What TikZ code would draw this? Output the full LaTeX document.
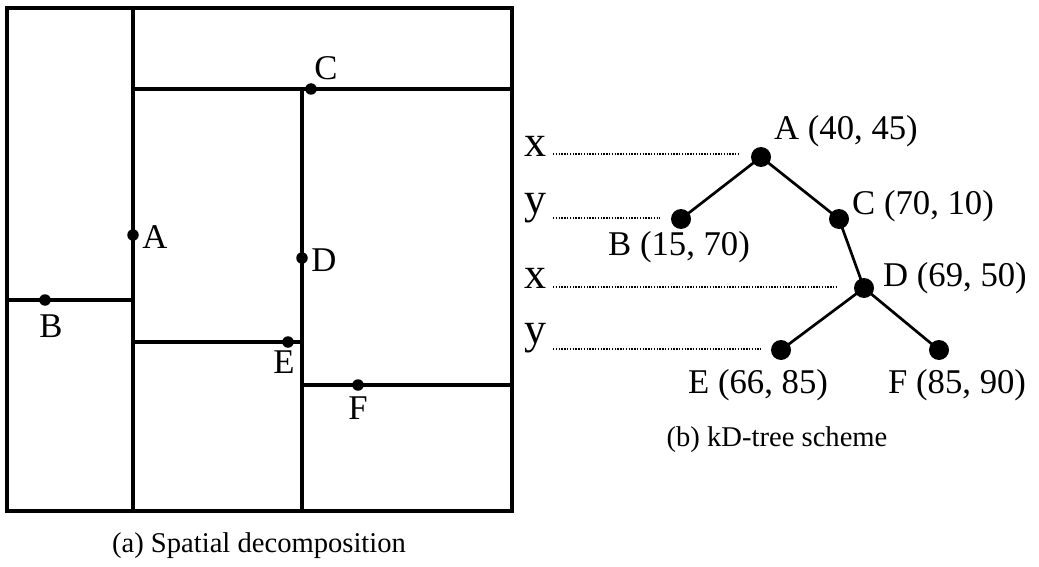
\documentclass[tikz,border=0pt]{standalone}
\usepackage{fontspec}
\setmainfont{Liberation Serif}
\begin{document}
\begin{tikzpicture}[x=1pt,y=-1pt,
  frame/.style={line width=3.1pt},
  sdot/.style={circle,fill=black,inner sep=0pt,minimum size=11.5pt},
  tdot/.style={circle,fill=black,inner sep=0pt,minimum size=20pt},
  lbl/.style={inner sep=0pt,font=\fontsize{34.7}{40}\selectfont},
  axlbl/.style={inner sep=0pt,font=\fontsize{44}{50}\selectfont},
  captext/.style={inner sep=0pt,font=\fontsize{28.6}{33}\selectfont},
  treeedge/.style={line width=2.7pt},
  levelline/.style={line width=1.7pt,dash pattern=on 1.4pt off 1.4pt}]
\useasboundingbox (0,0) rectangle (1039,567);
% (a) spatial decomposition
\draw[frame] (7,8) rectangle (512,511);
\draw[frame] (133,8) -- (133,511);
\draw[frame] (133,89) -- (512,89);
\draw[frame] (302,89) -- (302,511);
\draw[frame] (7,300) -- (133,300);
\draw[frame] (133,342) -- (302,342);
\draw[frame] (302,385) -- (512,385);
\node[sdot] (pA) at (133,235) {};
\node[sdot] (pB) at (45,300) {};
\node[sdot] (pC) at (311,89) {};
\node[sdot] (pD) at (302,258) {};
\node[sdot] (pE) at (288,342) {};
\node[sdot] (pF) at (358,385) {};
\node[lbl] (lA) at (155,237) {A};
\node[lbl] (lB) at (51,326) {B};
\node[lbl] (lC) at (326,68) {C};
\node[lbl] (lD) at (324,260) {D};
\node[lbl] (lE) at (284,362) {E};
\node[lbl] (lF) at (358,408) {F};
\node[captext] (capa) at (259,546) {(a) Spatial decomposition};
% (b) kD-tree
\node[tdot] (tA) at (761,157) {};
\node[tdot] (tB) at (681,219) {};
\node[tdot] (tC) at (839,219) {};
\node[tdot] (tD) at (864,288) {};
\node[tdot] (tE) at (781,350) {};
\node[tdot] (tF) at (939,350) {};
\draw[treeedge] (tA.center) -- (tB.center);
\draw[treeedge] (tA.center) -- (tC.center);
\draw[treeedge] (tC.center) -- (tD.center);
\draw[treeedge] (tD.center) -- (tE.center);
\draw[treeedge] (tD.center) -- (tF.center);
\node[lbl,anchor=west] (ltA) at (774,131) {A (40, 45)};
\node[lbl,anchor=west] (ltC) at (852,206) {C (70, 10)};
\node[lbl,anchor=west] (ltB) at (608,247) {B (15, 70)};
\node[lbl,anchor=west] (ltD) at (883,278) {D (69, 50)};
\node[lbl,anchor=west] (ltE) at (688,385) {E (66, 85)};
\node[lbl,anchor=west] (ltF) at (888,385) {F (85, 90)};
\node[axlbl,anchor=base west] (x1) at (524,157) {x};
\node[axlbl,anchor=base west] (y1) at (524,213) {y};
\node[axlbl,anchor=base west] (x2) at (524,288) {x};
\node[axlbl,anchor=base west] (y2) at (524,343) {y};
\coordinate (e1) at (740,154);
\coordinate (e2) at (660,218);
\coordinate (e3) at (838,287);
\coordinate (e4) at (761,349);
\draw[levelline] (553,154) -- (e1);
\draw[levelline] (553,218) -- (e2);
\draw[levelline] (553,287) -- (e3);
\draw[levelline] (553,349) -- (e4);
\node[captext] (capb) at (777,440) {(b) kD-tree scheme};
\end{tikzpicture}
\end{document}
